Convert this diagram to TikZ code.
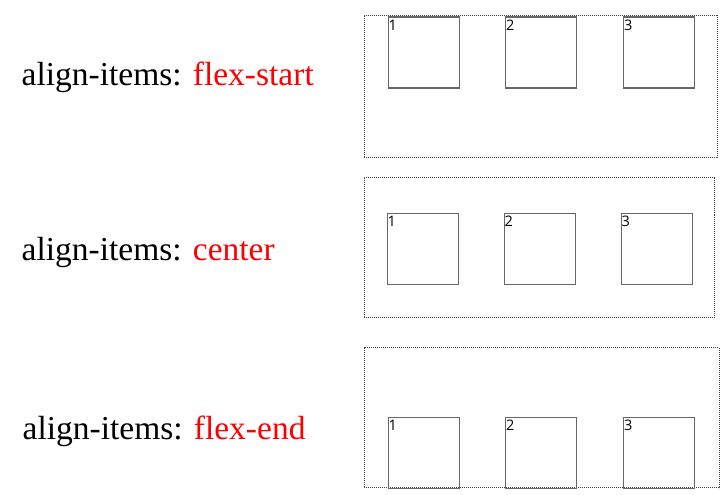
\documentclass[tikz,border=0pt]{standalone}
\usepackage{fontspec}
\setmainfont{Liberation Serif}
\newfontfamily\numfont{Open Sans}
\usepackage{xcolor}
\usetikzlibrary{positioning}

\tikzset{
  flexbox/.style={draw=black!75, line width=0.6pt, dash pattern=on 1pt off 1pt, inner sep=0pt, anchor=north west},
  itembox/.style={draw=black!60, line width=1.2pt, minimum width=71pt, minimum height=71pt, inner sep=0pt, anchor=north west},
  itemnum/.style={font=\numfont\fontsize{14.5}{14.5}\selectfont, inner xsep=1pt, inner ysep=3.5pt, anchor=north west},
  caption/.style={font=\fontsize{33.5}{36}\selectfont, anchor=base west, inner sep=0pt},
}

\begin{document}
\begin{tikzpicture}[x=1pt, y=-1pt]
    \useasboundingbox (0,0) rectangle (723,495);

    % flex-start row
    \node[caption] (capA) at (21.5,85) {align-items: \textcolor{red}{flex-start}};
    \node[flexbox, minimum width=352.5pt, minimum height=142pt] (rowA) at (364,15) {};
    \foreach \n/\x in {1/387.5, 2/505, 3/623} {
        \node[itembox] (a\n) at (\x,16.5) {};
        \node[itemnum] (na\n) at (a\n.north west) {\n};
    }

    % center row
    \node[caption] (capB) at (21.5,260) {align-items: \textcolor{red}{center}};
    \node[flexbox, minimum width=350.5pt, minimum height=140pt] (rowB) at (363.5,176.7) {};
    \foreach \n/\x in {1/386.5, 2/503.5, 3/620.5} {
        \node[itembox] (b\n) at (\x,212.5) {};
        \node[itemnum] (nb\n) at (b\n.north west) {\n};
    }

    % flex-end row
    \node[caption] (capC) at (22.5,439.3) {align-items: \textcolor{red}{flex-end}};
    \node[flexbox, minimum width=355pt, minimum height=140.6pt] (rowC) at (363.5,346.7) {};
    \foreach \n/\x in {1/387.5, 2/505, 3/623} {
        \node[itembox] (c\n) at (\x,416.5) {};
        \node[itemnum] (nc\n) at (c\n.north west) {\n};
    }

\end{tikzpicture}
\end{document}
